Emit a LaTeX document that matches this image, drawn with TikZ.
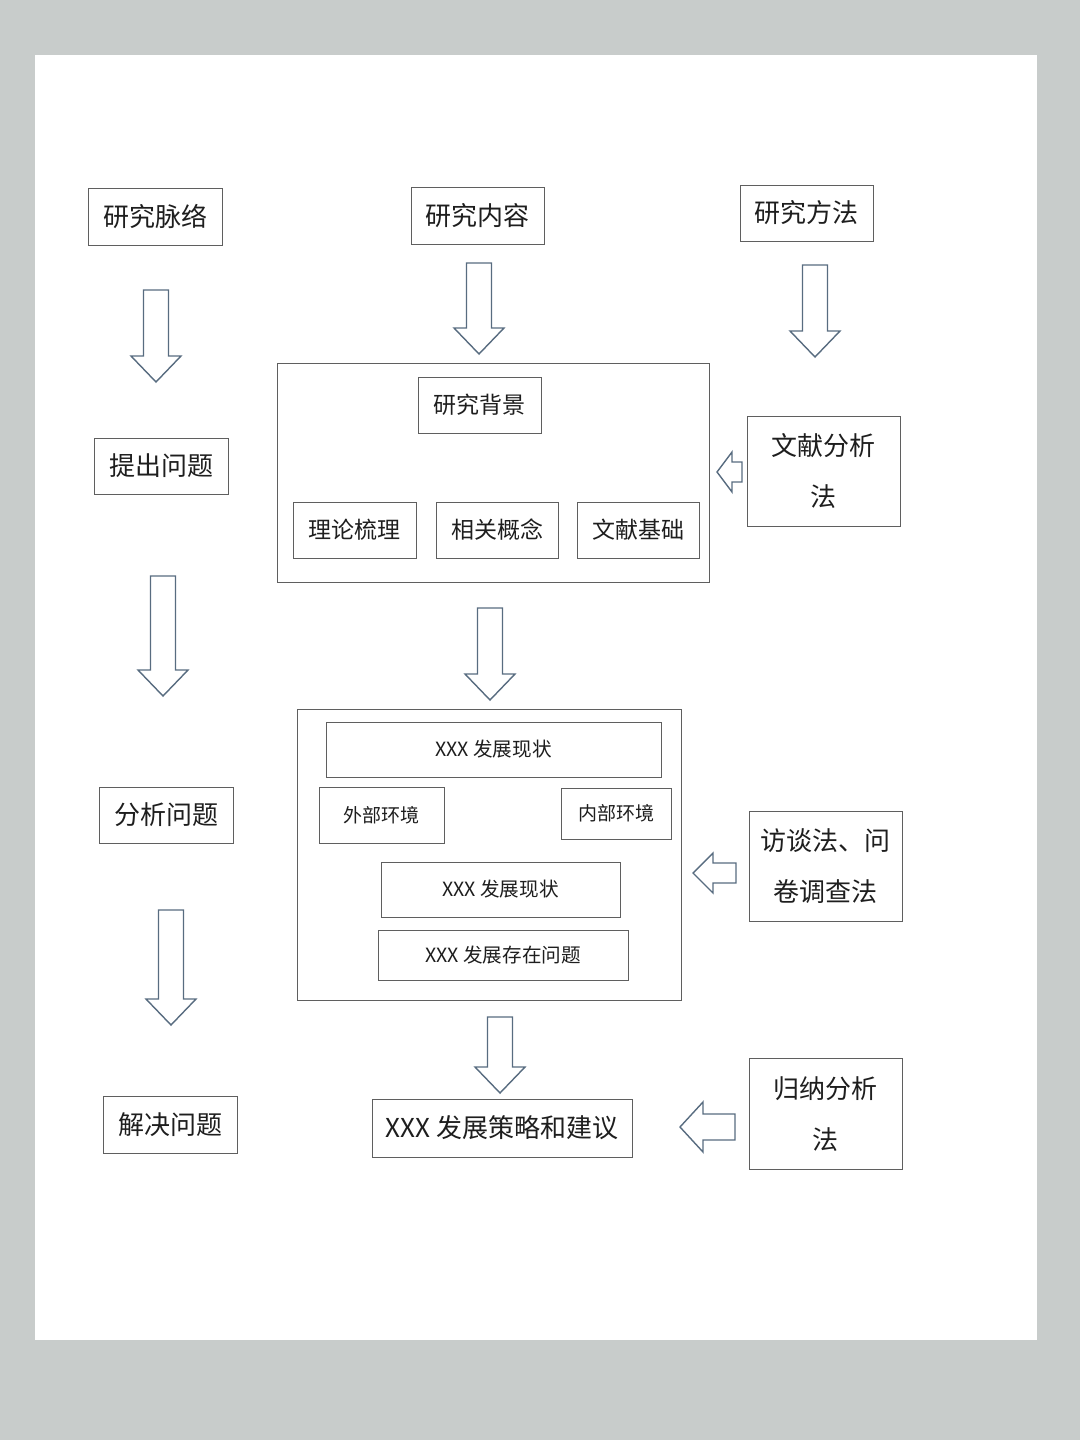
\documentclass[tikz,border=0pt]{standalone}
\usepackage{fontspec}
\newfontfamily\cjk{Noto Sans CJK SC}
\definecolor{bggray}{RGB}{200,204,203}
\definecolor{boxgray}{RGB}{95,95,95}
\definecolor{arrowblue}{RGB}{88,108,128}
\definecolor{ink}{RGB}{30,30,30}

% block arrow pointing down: centre x, top y, tip y
\newcommand{\downarr}[3]{%
  \draw[blockarrow] ({#1-12.5},#2) -- ({#1+12.5},#2) -- ({#1+12.5},{#3-26}) -- ({#1+25},{#3-26})
    -- (#1,#3) -- ({#1-25},{#3-26}) -- ({#1-12.5},{#3-26}) -- cycle;}
% block arrow pointing left: tip x, y, head x, tail x, head half, shaft half
\newcommand{\leftarr}[6]{%
  \draw[blockarrow] (#1,#2) -- (#3,{#2-#5}) -- (#3,{#2-#6}) -- (#4,{#2-#6})
    -- (#4,{#2+#6}) -- (#3,{#2+#6}) -- (#3,{#2+#5}) -- cycle;}

\begin{document}
\begin{tikzpicture}[x=0.5pt, y=-0.5pt,
    box/.style = {draw=boxgray, line width=0.5pt, inner sep=0pt, text=ink,
                  font=\cjk\fontsize{13}{13}\selectfont},
    twoline/.style = {box, align=center, font=\cjk\fontsize{13}{25.5}\selectfont},
    mid/.style = {font=\cjk\fontsize{11.5}{11.5}\selectfont},
    small/.style = {font=\cjk\fontsize{9.5}{9.5}\selectfont},
    tiny/.style = {font=\cjk\fontsize{9.8}{9.8}\selectfont},
    blockarrow/.style = {draw=arrowblue, line width=0.7pt, fill=white, line join=miter}]
    \useasboundingbox (0,0) rectangle (1080,1440);
    \fill[bggray] (0,0) rectangle (1080,1440);
    \fill[white] (35,55) rectangle (1037,1340);

    % top row
    \node[box, minimum width=67pt, minimum height=28.5pt] (mailuo) at (155,216.5) {研究脉络};
    \node[box, minimum width=66.5pt, minimum height=28.5pt] (neirong) at (477.5,215.5) {研究内容};
    \node[box, minimum width=66.5pt, minimum height=28pt] (fangfa) at (806.5,213) {研究方法};

    % left column
    \node[box, minimum width=67pt, minimum height=28pt] (tichu) at (161,466) {提出问题};
    \node[box, minimum width=67pt, minimum height=28pt] (fenxi) at (166,815) {分析问题};
    \node[box, minimum width=67pt, minimum height=28.5pt] (jiejue) at (170,1124.5) {解决问题};

    % content block 1
    \node[box, minimum width=216pt, minimum height=109.5pt] (kuang1) at (493,472.5) {};
    \node[box, mid, minimum width=61.5pt, minimum height=28pt] (beijing) at (479.5,405) {研究背景};
    \node[box, mid, minimum width=61.5pt, minimum height=28pt] (lilun) at (354.5,530) {理论梳理};
    \node[box, mid, minimum width=61pt, minimum height=28pt] (gainian) at (497,530) {相关概念};
    \node[box, mid, minimum width=61pt, minimum height=28pt] (jichu) at (638,530) {文献基础};

    % content block 2
    \node[box, minimum width=192pt, minimum height=145.5pt] (kuang2) at (489,854.5) {};
    \node[box, tiny, minimum width=167.5pt, minimum height=27.5pt] (xianzhuang1) at (493.5,749.5) {XXX 发展现状};
    \node[box, small, minimum width=62.5pt, minimum height=28pt] (waibu) at (381.5,815) {外部环境};
    \node[box, small, minimum width=55pt, minimum height=25.5pt] (neibu) at (616,813.5) {内部环境};
    \node[box, tiny, minimum width=119.5pt, minimum height=27.5pt] (xianzhuang2) at (500.5,889.5) {XXX 发展现状};
    \node[box, tiny, minimum width=125pt, minimum height=25pt] (wenti) at (503,955) {XXX 发展存在问题};

    \node[box, minimum width=130pt, minimum height=29pt] (celue) at (502,1128) {XXX 发展策略和建议};

    % methods
    \node[twoline, minimum width=76.5pt, minimum height=55pt] (wenxian) at (823.5,471) {文献分析\\法};
    \node[twoline, minimum width=76.5pt, minimum height=55pt] (fangtan) at (825.5,866) {访谈法、问\\卷调查法};
    \node[twoline, minimum width=76.5pt, minimum height=55.5pt] (guina) at (825.5,1114) {归纳分析\\法};

    % block arrows
    \downarr{156}{290}{382}
    \downarr{163}{576}{696}
    \downarr{171}{910}{1025}
    \downarr{479}{263}{354}
    \downarr{490}{608}{700}
    \downarr{500}{1017}{1093}
    \downarr{815}{265}{357}
    \leftarr{717}{472}{732}{742}{20}{10}
    \leftarr{693}{873}{713}{736}{20}{10}
    \leftarr{680}{1127}{703}{735}{25}{13}
\end{tikzpicture}
\end{document}
